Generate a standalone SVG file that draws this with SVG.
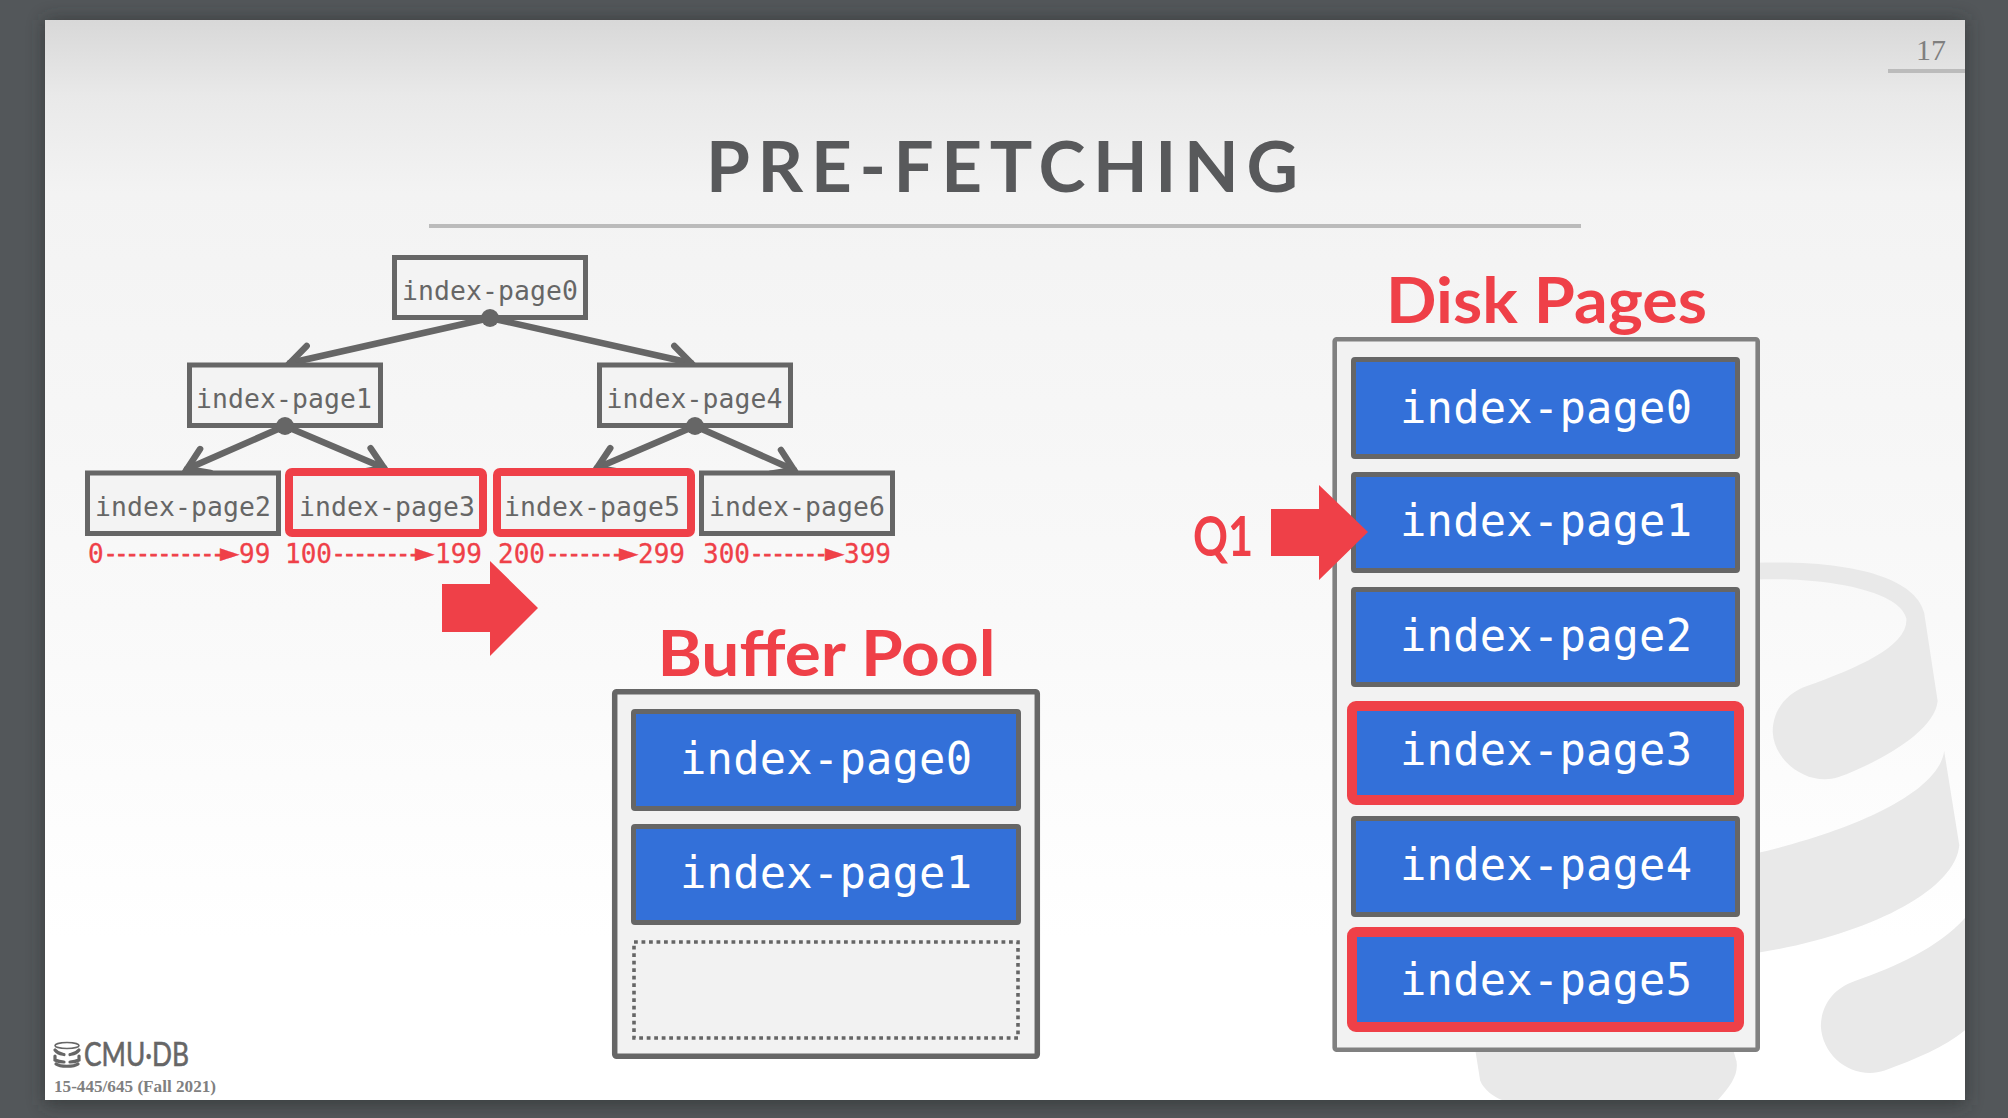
<svg xmlns="http://www.w3.org/2000/svg" width="2008" height="1118" viewBox="0 0 2008 1118">
<style>
.tbox{fill:#f3f3f3;stroke:#666;stroke-width:5}
.tred{fill:#f3f3f3;stroke:#ef4048;stroke-width:8}
.tl{font:26.4px "DejaVu Sans Mono",monospace;fill:#666;text-anchor:middle}
.page{fill:#3370d9;stroke:#666;stroke-width:5}
.pred{fill:#3370d9;stroke:#ef4048;stroke-width:10}
.pl{font:43.8px "DejaVu Sans Mono",monospace;fill:#fff;text-anchor:middle}
.head{font:700 63px Lato,sans-serif;fill:#ef4048}
.rng{font:26px "DejaVu Sans Mono",monospace;fill:#ef4048;stroke:#ef4048;stroke-width:.3}
.d{font-size:22px;letter-spacing:-2.5px;stroke-width:.9}
.t{font-size:32px}
.conn{fill:none;stroke:#666;stroke-width:6.5;stroke-linecap:round;marker-end:url(#a)}
.wm{fill:#e9e9e9}
</style>
<defs>
<linearGradient id="bg" x1="0" y1="0" x2="0" y2="1">
<stop offset="0" stop-color="#d8d8d8"/><stop offset=".07" stop-color="#e9e9e9"/><stop offset=".16" stop-color="#f3f3f3"/><stop offset=".55" stop-color="#f9f9f9"/><stop offset=".85" stop-color="#fff"/>
</linearGradient>
<filter id="sh" x="-5%" y="-5%" width="110%" height="110%"><feGaussianBlur stdDeviation="9"/></filter>
<clipPath id="sl"><rect x="45" y="20" width="1920" height="1080"/></clipPath>
<marker id="a" markerUnits="userSpaceOnUse" markerWidth="34" markerHeight="34" viewBox="-26 -17 34 34" refX="0" refY="0" orient="auto" overflow="visible">
<path d="M-20,-13 L0,0 L-20,13" fill="none" stroke="#666" stroke-width="6.5" stroke-linecap="round" stroke-linejoin="miter"/>
</marker>
</defs>

<rect width="2008" height="1118" fill="#53575a"/>
<rect x="45" y="20" width="1920" height="1085" fill="#2b2d2f" opacity=".65" filter="url(#sh)"/>
<rect x="45" y="20" width="1920" height="1080" fill="url(#bg)"/>

<g id="watermark" clip-path="url(#sl)">
<g transform="translate(1160 250) scale(.5408 .5537)">
<path class="wm" d="M1100,565C1300,558 1400,600 1413,655L1438,815C1432,870 1330,925 1255,952C1200,970 1135,925 1133,870C1133,830 1160,800 1195,788C1290,755 1385,715 1380,665C1370,620 1250,590 1100,595Z"/>
<path class="wm" d="M1100,1090C1280,1050 1440,980 1450,905L1478,1075C1470,1160 1300,1240 1100,1270Z"/>
<path class="wm" d="M1490,1205C1440,1260 1360,1295 1285,1320C1240,1335 1222,1370 1222,1402C1225,1460 1285,1500 1340,1482C1400,1460 1450,1440 1490,1408Z"/>
<path class="wm" d="M583,1445L592,1500C600,1520 625,1535 640,1537L1030,1537C1055,1510 1070,1490 1066,1465L1060,1445Z"/>
</g>
</g>

<g id="slide-number">
<rect x="1888" y="69" width="77" height="4" fill="#bbb"/>
<text x="1931" y="60" font-family="Liberation Serif,serif" font-size="30" fill="#7f7f7f" text-anchor="middle">17</text>
</g>

<g id="title">
<text x="706" y="191.7" font-family="Lato,sans-serif" font-weight="700" font-size="71" fill="#58595b" textLength="592" lengthAdjust="spacing">PRE-FETCHING</text>
<rect x="429" y="224" width="1152" height="4" fill="#bbb"/>
</g>

<g id="connectors">
<path class="conn" d="M490,318L290,363"/>
<path class="conn" d="M490,318L691,363"/>
<path class="conn" d="M285,426L187,469"/>
<path class="conn" d="M285,426L384,468"/>
<path class="conn" d="M695,426L597,468"/>
<path class="conn" d="M695,426L794,470"/>
</g>

<g id="tree-index-page0"><rect class="tbox" x="394.500" y="257.500" width="191" height="60"/><text class="tl" x="490" y="299.500" textLength="176">index-page0</text><circle cx="490" cy="318" r="9" fill="#666"/></g>
<g id="tree-index-page1"><rect class="tbox" x="189.500" y="365" width="191" height="60.500"/><text class="tl" x="284" y="407.500" textLength="176">index-page1</text><circle cx="285" cy="426" r="9" fill="#666"/></g>
<g id="tree-index-page4"><rect class="tbox" x="599.500" y="365" width="191" height="60.500"/><text class="tl" x="694.500" y="407.500" textLength="176">index-page4</text><circle cx="695" cy="426" r="9" fill="#666"/></g>
<g id="tree-index-page2"><rect class="tbox" x="87.500" y="473" width="191" height="60.500"/><text class="tl" x="183" y="515.500" textLength="176">index-page2</text></g>
<g id="tree-index-page3"><rect class="tred" x="289" y="472" width="194" height="61" rx="3"/><text class="tl" x="387" y="515.500" textLength="176">index-page3</text></g>
<g id="tree-index-page5"><rect class="tred" x="497" y="472" width="194" height="61" rx="3"/><text class="tl" x="592" y="515.500" textLength="176">index-page5</text></g>
<g id="tree-index-page6"><rect class="tbox" x="701.500" y="473" width="191" height="60.500"/><text class="tl" x="797" y="515.500" textLength="176">index-page6</text></g>

<g id="ranges">
<text class="rng" y="563"><tspan x="88">0</tspan><tspan class="d" x="104" dy="-2">-----------</tspan><tspan class="t" x="220" dy="2">►</tspan><tspan x="239">99</tspan></text>
<text class="rng" y="563"><tspan x="285">100</tspan><tspan class="d" x="332" dy="-2">--------</tspan><tspan class="t" x="415" dy="2">►</tspan><tspan x="435">199</tspan></text>
<text class="rng" y="563"><tspan x="498">200</tspan><tspan class="d" x="546" dy="-2">-------</tspan><tspan class="t" x="619" dy="2">►</tspan><tspan x="638">299</tspan></text>
<text class="rng" y="563"><tspan x="703">300</tspan><tspan class="d" x="750" dy="-2">-------</tspan><tspan class="t" x="825" dy="2">►</tspan><tspan x="844">399</tspan></text>
</g>

<g id="arrow-buffer"><path d="M442,584H490V561L538,608L490,656V632H442Z" fill="#ef4048"/></g>

<g id="buffer-pool">
<text class="head" x="657.500" y="676" textLength="338" lengthAdjust="spacingAndGlyphs">Buffer Pool</text>
<rect x="614.7" y="691.7" width="422.6" height="364.6" rx="2" fill="#f2f2f2" stroke="#666" stroke-width="5.5"/>
</g>
<g id="bp-index-page0"><rect class="page" x="633.5" y="711.5" width="385" height="97" rx="1.5"/><text class="pl" x="826" y="774" textLength="292">index-page0</text></g>
<g id="bp-index-page1"><rect class="page" x="633.5" y="826.5" width="385" height="96" rx="1.5"/><text class="pl" x="826" y="888" textLength="292">index-page1</text></g>
<g id="bp-empty"><rect x="634" y="942" width="384" height="96" fill="#f2f2f2" stroke="#666" stroke-width="3.6" stroke-dasharray="3.8 3.7"/></g>

<g id="disk-pages">
<text class="head" x="1386" y="323" textLength="321" lengthAdjust="spacingAndGlyphs">Disk Pages</text>
<rect x="1334.7" y="339.2" width="423" height="710.6" rx="2" fill="#f2f2f2" stroke="#808080" stroke-width="4.6"/>
</g>
<g id="dk-index-page0"><rect class="page" x="1353.5" y="359.5" width="384" height="97" rx="1.5"/><text class="pl" x="1546" y="423" textLength="292">index-page0</text></g>
<g id="dk-index-page1"><rect class="page" x="1353.5" y="474.5" width="384" height="96" rx="1.5"/><text class="pl" x="1546" y="536" textLength="292">index-page1</text></g>
<g id="dk-index-page2"><rect class="page" x="1353.5" y="589.5" width="384" height="95" rx="1.5"/><text class="pl" x="1546" y="651" textLength="292">index-page2</text></g>
<g id="dk-index-page3"><rect class="pred" x="1352" y="706" width="387" height="94" rx="4"/><text class="pl" x="1546" y="765" textLength="292">index-page3</text></g>
<g id="dk-index-page4"><rect class="page" x="1353.5" y="818.5" width="384" height="96" rx="1.5"/><text class="pl" x="1546" y="880" textLength="292">index-page4</text></g>
<g id="dk-index-page5"><rect class="pred" x="1352" y="932" width="387" height="95" rx="4"/><text class="pl" x="1546" y="995" textLength="292">index-page5</text></g>

<g id="q1">
<text x="1193" y="556" font-family="Lato,sans-serif" font-weight="700" font-size="55" fill="#ef4048" textLength="60" lengthAdjust="spacingAndGlyphs">Q1</text>
<path d="M1271,509H1319V485L1368,532L1319,580V556H1271Z" fill="#ef4048"/>
</g>

<g id="footer">
<g fill="none" stroke="#666">
<ellipse cx="67" cy="1045.5" rx="12" ry="3" stroke-width="1.6"/>
<path d="M55,1050C58,1054 62,1054 64,1054.5M79,1050C76,1054 72,1054 70,1054.5M55,1056V1060C58,1061.500 62,1062 64,1062M79,1056V1060C76,1061.500 72,1062 70,1062M56,1064C60,1067 74,1067 78,1064" stroke-width="3.2" stroke-linecap="round"/>
</g>
<text x="84" y="1066" font-family="Lato,sans-serif" font-size="32" fill="#666" stroke="#666" stroke-width=".6" textLength="105" lengthAdjust="spacingAndGlyphs">CMU·DB</text>
<text x="54" y="1092" font-family="Liberation Serif,serif" font-weight="700" font-size="17.500" fill="#808080" textLength="162" lengthAdjust="spacingAndGlyphs">15-445/645 (Fall 2021)</text>
</g>
</svg>
